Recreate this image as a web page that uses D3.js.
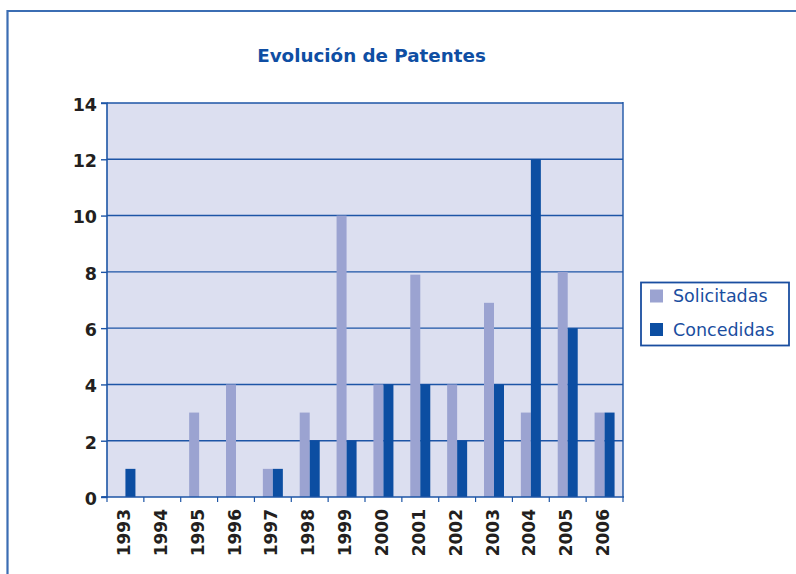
<!DOCTYPE html>
<html>
<head>
<meta charset="utf-8">
<script src="https://cdn.jsdelivr.net/npm/d3@7"></script>
<style>
  html, body { margin: 0; padding: 0; background: #ffffff; }
  svg { display: block; }
</style>
</head>
<body>
<svg id="chart" width="796" height="574"></svg>
<script>
const title = "Evolución de Patentes";
const years = ["1993","1994","1995","1996","1997","1998","1999","2000","2001","2002","2003","2004","2005","2006"];
const seriesNames = ["Solicitadas", "Concedidas"];
const solicitadas = [0, 0, 3, 4, 1, 3, 10, 4, 7.9, 4, 6.9, 3, 8, 3];
const concedidas  = [1, 0, 0, 0, 1, 2, 2, 4, 4, 2, 4, 12, 6, 3];
const yTicks = [0, 2, 4, 6, 8, 10, 12, 14];

const colors = { Solicitadas: "#9ba3d1", Concedidas: "#0c4ea2" };
const gridColor = "#1d55a6";
const textDark = "#231f20";
const blue = "#1a4ea0";

const svg = d3.select("#chart");
const W = 796, H = 574;
const plot = { left: 107, right: 623, top: 103, bottom: 497 };

// outer frame
svg.append("path")
  .attr("d", `M7.5,${H} V11 H${W}`)
  .attr("fill", "none").attr("stroke", "#3b6db3").attr("stroke-width", 2.2);

// title
svg.append("text")
  .attr("x", 371.5).attr("y", 61.5)
  .attr("text-anchor", "middle")
  .attr("font-family", "DejaVu Sans, Verdana, sans-serif")
  .attr("font-weight", "bold").attr("font-size", 18.3)
  .attr("fill", "#0f4ea3")
  .text(title);

const x = d3.scaleBand().domain(years).range([plot.left, plot.right])
  .paddingInner(0.4574).paddingOuter(0.2287);
const x1 = d3.scaleBand().domain(seriesNames).range([0, x.bandwidth()]);
const y = d3.scaleLinear().domain([0, 14]).range([plot.bottom, plot.top]);

// plot background
svg.append("rect")
  .attr("x", plot.left).attr("y", plot.top)
  .attr("width", plot.right - plot.left).attr("height", plot.bottom - plot.top)
  .attr("fill", "#dcdff0");

// gridlines
svg.append("g").selectAll("line").data(yTicks.filter(d => d > 0)).join("line")
  .attr("x1", plot.left).attr("x2", plot.right)
  .attr("y1", d => y(d)).attr("y2", d => y(d))
  .attr("stroke", gridColor).attr("stroke-width", 1.4);

// bars
const data = years.map((yr, i) => ({ year: yr, Solicitadas: solicitadas[i], Concedidas: concedidas[i] }));
const groups = svg.append("g").selectAll("g").data(data).join("g")
  .attr("transform", d => `translate(${x(d.year)},0)`);
groups.selectAll("rect").data(d => seriesNames.map(k => ({ key: k, value: d[k] }))).join("rect")
  .attr("x", d => x1(d.key))
  .attr("width", x1.bandwidth())
  .attr("y", d => y(d.value))
  .attr("height", d => y(0) - y(d.value))
  .attr("fill", d => colors[d.key]);

// right border of plot
svg.append("line")
  .attr("x1", plot.right).attr("x2", plot.right)
  .attr("y1", plot.top - 1).attr("y2", plot.bottom)
  .attr("stroke", gridColor).attr("stroke-width", 1.4);

// y axis
const yAxis = d3.axisLeft(y).tickValues(yTicks).tickSize(6).tickPadding(4).tickFormat(d3.format("d"));
const gy = svg.append("g").attr("transform", `translate(${plot.left},0)`).call(yAxis);
gy.select(".domain").attr("stroke", gridColor).attr("stroke-width", 1.6).attr("d", `M-6,${plot.top}H0V${plot.bottom}H-6`);
gy.selectAll(".tick line").attr("stroke", gridColor).attr("stroke-width", 1.4);
gy.selectAll(".tick text")
  .attr("font-family", "DejaVu Sans, Verdana, sans-serif")
  .attr("font-weight", "bold").attr("font-size", 17.5)
  .attr("fill", textDark).attr("dy", "0.42em");

// x axis line and ticks at band boundaries
const gx = svg.append("g");
gx.append("line")
  .attr("x1", plot.left - 5).attr("x2", plot.right + 1)
  .attr("y1", plot.bottom).attr("y2", plot.bottom)
  .attr("stroke", gridColor).attr("stroke-width", 1.6);
const boundaries = years.map(d => x(d) - (x.step() - x.bandwidth()) / 2).concat([plot.right]);
gx.selectAll("line.tk").data(boundaries).join("line").attr("class", "tk")
  .attr("x1", d => d).attr("x2", d => d)
  .attr("y1", plot.bottom).attr("y2", plot.bottom + 5)
  .attr("stroke", gridColor).attr("stroke-width", 1.2);
gx.selectAll("text").data(years).join("text")
  .attr("transform", d => `translate(${x(d) + x.bandwidth() / 2 - 1.5},${plot.bottom + 12}) rotate(-90)`)
  .attr("text-anchor", "end")
  .attr("dy", "0.36em")
  .attr("font-family", "DejaVu Sans, Verdana, sans-serif")
  .attr("font-weight", "bold").attr("font-size", 17)
  .attr("fill", textDark)
  .text(d => d);

// legend
const lg = svg.append("g");
lg.append("rect")
  .attr("x", 641).attr("y", 282.5).attr("width", 148).attr("height", 63)
  .attr("fill", "#ffffff").attr("stroke", blue).attr("stroke-width", 1.8);
seriesNames.forEach((k, i) => {
  const cy = 296 + i * 33.5;
  lg.append("rect").attr("x", 650).attr("y", cy - 6.5).attr("width", 13).attr("height", 13)
    .attr("fill", colors[k]);
  lg.append("text").attr("x", 673).attr("y", cy).attr("dy", "0.36em")
    .attr("font-family", "DejaVu Sans, Verdana, sans-serif")
    .attr("font-size", 17.5).attr("fill", blue)
    .text(k);
});
</script>
</body>
</html>
